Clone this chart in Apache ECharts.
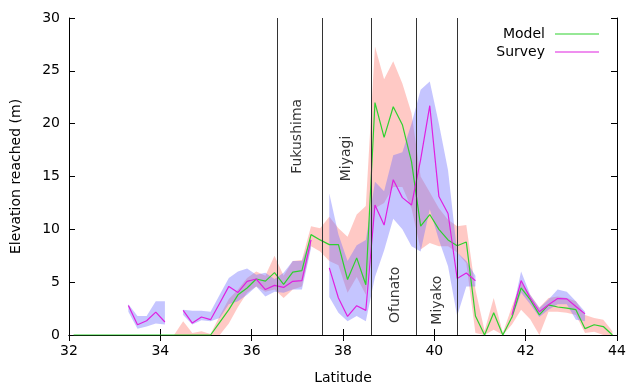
<!DOCTYPE html>
<html><head><meta charset="utf-8">
<script src="https://cdn.jsdelivr.net/npm/echarts@6/dist/echarts.min.js"></script>
<style>html,body{margin:0;padding:0;background:#fff}#c{width:629px;height:386px}</style>
</head><body><div id="c"></div>
<script>
const latitudes = [32.1,32.3,32.5,32.7,32.9,33.1,33.3,33.5,33.7,33.9,34.1,34.3,34.5,34.7,34.9,35.1,35.3,35.5,35.7,35.9,
  36.1,36.3,36.5,36.7,36.9,37.1,37.3,37.5,37.7,37.9,38.1,38.3,38.5,38.7,38.9,39.1,39.3,39.5,39.7,39.9,
  40.1,40.3,40.5,40.7,40.9,41.1,41.3,41.5,41.7,41.9,42.1,42.3,42.5,42.7,42.9,43.1,43.3,43.5,43.7,43.9];
const modelValues = [0,0,0,0,0,0,0,0,0,0,0,0,0,0,0,0,1.2,2.4,3.8,4.45,
  5.3,5.1,5.9,4.8,5.95,6.1,9.5,9.0,8.55,8.55,5.25,7.3,4.75,22.0,18.7,21.6,19.9,16.4,10.3,11.4,
  10.0,9.0,8.45,8.8,1.8,0,2.1,0,1.7,4.45,3.35,1.9,2.85,2.65,2.55,2.4,0.6,0.97,0.8,0];
const modelLow = [null,null,null,null,null,null,null,null,null,null,null,0,0,0,0,0,0,1.1,2.65,4.0,
  4.6,4.1,4.3,3.5,4.3,4.6,8.4,7.9,7.0,6.6,4.0,5.5,3.8,12.0,12.5,14.0,14.0,12.0,8.1,8.7,
  8.4,8.4,7.8,6.8,0.2,0,0.5,0,1.0,2.4,1.5,0,2.2,2.2,2.1,1.9,0.2,0.3,0,0];
const modelHigh = [null,null,null,null,null,null,null,null,null,null,null,0,1.3,0.2,0.35,0.1,1.8,3.4,4.3,5.4,
  6.0,5.6,7.5,5.6,7.0,7.1,10.3,10.1,11.2,10.1,9.3,11.4,12.2,27.3,24.2,25.9,23.8,21.0,15.0,13.5,
  12.0,10.9,10.3,10.4,4.3,0.4,3.5,0.2,2.7,5.0,3.8,2.6,3.5,3.65,3.5,3.2,1.9,1.6,1.45,0.35];
const surveyValues = [null,null,null,null,null,null,2.8,0.97,1.35,2.17,1.23,null,2.33,1.13,1.7,1.45,3.0,4.6,4.03,5.08,
  5.3,4.3,4.7,4.5,5.08,5.15,9.0,null,6.35,3.5,1.76,2.77,2.33,12.3,10.4,14.7,13.0,12.3,16.6,21.7,
  13.1,11.5,5.35,5.87,5.14,null,null,null,1.9,5.15,3.5,2.2,2.87,3.45,3.42,2.7,2.0,null,null,null];
const surveyLow = [null,null,null,null,null,null,2.2,0.6,0.8,1.1,1.0,null,1.9,1.0,1.4,1.3,1.6,2.9,3.2,3.8,
  4.6,3.65,4.1,4.0,4.3,4.3,8.2,null,3.6,2.1,1.3,1.8,1.3,5.5,8.0,11.0,10.0,8.4,7.9,11.9,
  9.0,6.5,1.8,4.6,4.6,null,null,null,1.5,4.0,2.9,1.7,2.4,2.9,2.9,1.45,1.3,null,null,null];
const surveyHigh = [null,null,null,null,null,null,2.9,1.8,1.8,3.2,3.2,null,2.4,2.3,2.3,2.2,3.8,5.4,6.0,6.3,
  5.7,5.9,5.3,5.9,7.0,7.0,9.2,null,13.4,9.5,7.0,8.5,9.0,14.5,13.6,17.0,17.3,20.0,23.2,24.0,
  20.0,15.6,7.8,7.0,5.6,null,null,null,2.0,6.0,3.8,2.55,3.35,4.3,4.1,3.2,2.2,null,null,null];
const xTicks = [32,34,36,38,40,42,44];
const yTicks = [0,5,10,15,20,25,30];
const regionLines = [36.55,37.55,38.62,39.6,40.5];
const regionNames = ['Fukushima','Miyagi','Ofunato','Miyako'];
const regionLabelAt = [[37.0,18.8],[38.07,16.7],[39.14,3.8],[40.06,3.3]];

const FONT = 'DejaVu Sans';
const pairs = (arr) => latitudes.map((x,i) => [x, arr[i] == null ? null : arr[i]]);

// contiguous runs where both band bounds exist
function runs(lo, hi) {
  const out = []; let s = -1;
  for (let i = 0; i <= latitudes.length; i++) {
    const ok = i < latitudes.length && lo[i] != null && hi[i] != null;
    if (ok && s < 0) s = i;
    if (!ok && s >= 0) { out.push([s, i - 1]); s = -1; }
  }
  return out;
}
function bandSeries(name, lo, hi, color) {
  const segs = runs(lo, hi);
  return {
    name, type:'custom', silent:true, z:1, clip:true,
    encode:{x:[0,1], y:[2,3]},
    data: segs.map(([s,e]) => [latitudes[s], latitudes[e], 0, 0]),
    renderItem: (params, api) => {
      const [s, e] = segs[params.dataIndex];
      const pts = [];
      for (let i = s; i <= e; i++) pts.push(api.coord([latitudes[i], hi[i]]));
      for (let i = e; i >= s; i--) pts.push(api.coord([latitudes[i], lo[i]]));
      return {type:'polygon', shape:{points:pts}, style:{fill:color, stroke:null}};
    }
  };
}

const chart = echarts.init(document.getElementById('c'), null, {renderer:'canvas'});
const axisCommon = {
  axisLine:{show:true, lineStyle:{color:'#000', width:1}},
  axisTick:{show:true, inside:true, length:6, lineStyle:{color:'#000'}},
  splitLine:{show:false}
};
chart.setOption({
  animation:false,
  textStyle:{fontFamily:FONT},
  grid:{left:69, right:12, top:18, bottom:51, containLabel:false, outerBoundsMode:'none'},
  xAxis:[
    Object.assign({type:'value', min:32, max:44, interval:2, position:'bottom',
      axisLabel:{color:'#000', fontSize:14, fontFamily:FONT, margin:9},
      name:'Latitude', nameLocation:'middle', nameGap:36,
      nameTextStyle:{color:'#000', fontSize:14, fontFamily:FONT}}, axisCommon),
    Object.assign({type:'value', min:32, max:44, interval:2, position:'top',
      axisLabel:{show:false}}, axisCommon)
  ],
  yAxis:[
    Object.assign({type:'value', min:0, max:30, interval:5, position:'left',
      axisLabel:{color:'#000', fontSize:14, fontFamily:FONT, margin:9},
      name:'Elevation reached (m)', nameLocation:'middle', nameGap:46, nameRotate:90,
      nameTextStyle:{color:'#000', fontSize:14, fontFamily:FONT}}, axisCommon),
    Object.assign({type:'value', min:0, max:30, interval:5, position:'right',
      axisLabel:{show:false}}, axisCommon)
  ],
  legend:[
    {data:['Model'], orient:'vertical', right:30, top:27, align:'right', icon:'rect',
      itemWidth:44, itemHeight:1, padding:0,
      textStyle:{fontSize:14, fontFamily:FONT, color:'#000', padding:[0,5,0,0]}},
    {data:['Survey'], orient:'vertical', right:30, top:45, align:'right', icon:'rect',
      itemWidth:44, itemHeight:1, padding:0,
      textStyle:{fontSize:14, fontFamily:FONT, color:'#000', padding:[0,5,0,0]}}
  ],
  series:[
    bandSeries('modelBand', modelLow, modelHigh, 'rgba(255,120,110,0.4)'),
    bandSeries('surveyBand', surveyLow, surveyHigh, 'rgba(110,110,255,0.4)'),
    {name:'Model', type:'line', data: pairs(modelValues), symbol:'none', color:'#2ed12e',
      lineStyle:{width:1.2, color:'#2ed12e'}, connectNulls:false, z:3},
    {name:'Survey', type:'line', data: pairs(surveyValues), symbol:'none', color:'#e020e0',
      lineStyle:{width:1.2, color:'#e020e0'}, connectNulls:false, z:4},
    {name:'regions', type:'scatter', symbolSize:0, silent:true, z:5,
      data: regionNames.map((n,i) => ({name:n, value:regionLabelAt[i]})),
      label:{show:true, position:'inside', rotate:90, formatter:'{b}', color:'#000',
        fontSize:14, fontFamily:FONT, align:'center', verticalAlign:'middle'},
      markLine:{silent:true, symbol:'none', label:{show:false},
        lineStyle:{color:'#333', width:1, type:'solid'},
        data: regionLines.map(v => ({xAxis:v}))}
    }
  ]
});
</script></body></html>
